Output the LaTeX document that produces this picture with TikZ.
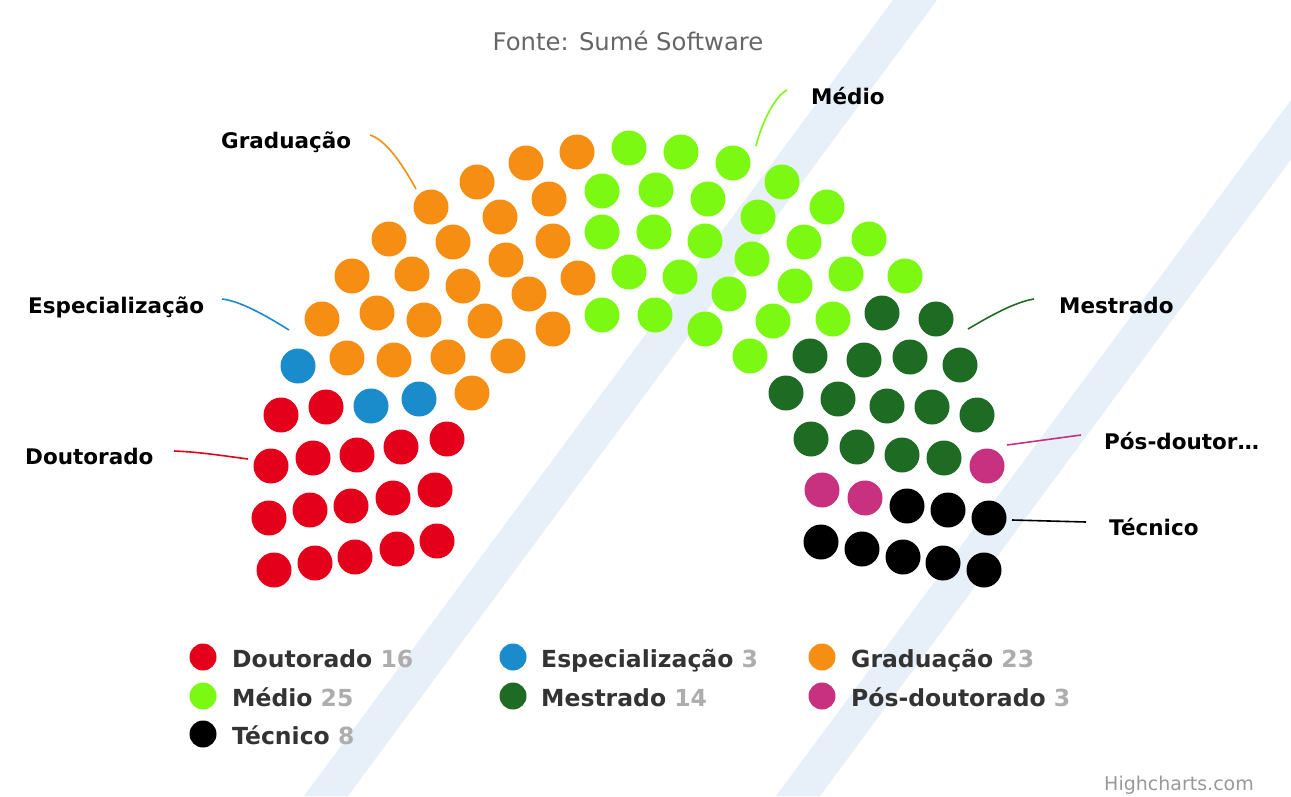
\documentclass[tikz,border=0pt]{standalone}
\usepackage{fontspec}
\setmainfont{DejaVu Sans}
\definecolor{cDoc}{HTML}{E4001B}
\definecolor{cEsp}{HTML}{1A8CCB}
\definecolor{cGra}{HTML}{F78E14}
\definecolor{cMed}{HTML}{7CF912}
\definecolor{cMes}{HTML}{1E6B24}
\definecolor{cPos}{HTML}{C8317F}
\definecolor{cTec}{HTML}{000000}
\definecolor{cBand}{HTML}{E7EFF8}
\definecolor{cLeg}{HTML}{333333}
\definecolor{cNum}{HTML}{ADADAD}
\definecolor{cSub}{HTML}{666666}
\definecolor{cCred}{HTML}{999999}
\begin{document}
\begin{tikzpicture}[x=1pt, y=-1pt,
  seat/.style={circle, inner sep=0pt, minimum size=35pt},
  key/.style={circle, inner sep=0pt, minimum size=27pt},
  lbl/.style={anchor=base west, inner sep=0pt, font=\fontsize{21.5}{26}\selectfont\bfseries},
  leg/.style={anchor=base west, inner sep=0pt, text=cLeg, font=\fontsize{23.5}{28}\selectfont\bfseries},
  conn/.style={line width=1.6pt}]
	\useasboundingbox (0,0) rectangle (1291,796);
	\clip (0,0) rectangle (1291,796);
	% watermark bands
	\fill[cBand] (893,0) -- (937,0) -- (348,796) -- (304,796) -- cycle;
	\fill[cBand] (1365,0) -- (1409,0) -- (820,796) -- (776,796) -- cycle;

	\node[anchor=base, inner sep=0pt, text=cSub, font=\fontsize{24.3}{29}\selectfont] (fonte) at (628,50) {Fonte: Sumé Software};

	% seats
	\foreach \px/\py [count=\i] in {281/415,326/407,271/466,313/458,357/455,401/447,447/439,269/518,310/510,351/506,393/498,435/490,274/570,315/563,355/557,397/549,437/541}
		\node[seat, fill=cDoc] (doc\i) at (\px,\py) {};
	\foreach \px/\py [count=\i] in {298/366,371/406,419/399}
		\node[seat, fill=cEsp] (esp\i) at (\px,\py) {};
	\foreach \px/\py [count=\i] in {577/152,526/163,477/182,431/207,549/199,500/217,389/239,453/242,553/241,506/260,352/276,412/274,463/286,578/278,529/294,322/319,377/313,424/320,485/321,553/329,347/358,394/360,448/357,508/356,472/393}
		\node[seat, fill=cGra] (gra\i) at (\px,\py) {};
	\foreach \px/\py [count=\i] in {629/148,681/152,733/163,782/182,827/207,869/239,905/276,602/191,656/190,708/199,758/217,804/242,846/274,833/319,602/232,654/232,705/241,752/259,795/286,629/272,680/277,729/294,773/321,602/315,655/315,705/329,750/356}
		\node[seat, fill=cMed] (med\i) at (\px,\py) {};
	\foreach \px/\py [count=\i] in {882/313,936/319,810/356,864/360,910/357,960/365,786/393,838/399,887/406,932/407,977/415,811/439,857/447,902/455,944/458}
		\node[seat, fill=cMes] (mes\i) at (\px,\py) {};
	\foreach \px/\py [count=\i] in {987/466,822/490,865/498}
		\node[seat, fill=cPos] (pos\i) at (\px,\py) {};
	\foreach \px/\py [count=\i] in {907/506,948/510,989/518,821/542,862/549,903/557,943/563,984/570}
		\node[seat, fill=cTec] (tec\i) at (\px,\py) {};

	% data labels
	\node[lbl] (lGra) at (221,148) {Graduação};
	\node[lbl] (lEsp) at (28,313) {Especialização};
	\node[lbl] (lDoc) at (25,464) {Doutorado};
	\node[lbl] (lMed) at (811,104) {Médio};
	\node[lbl] (lMes) at (1059,313) {Mestrado};
	\node[lbl] (lPos) at (1104,449) {Pós-doutor…};
	\node[lbl] (lTec) at (1109,535) {Técnico};

	\coordinate (aGra) at (370,135);  \coordinate (bGra) at (416,189);
	\coordinate (aEsp) at (222,299);  \coordinate (bEsp) at (289,330);
	\coordinate (aDoc) at (174,451);  \coordinate (bDoc) at (248,459);
	\coordinate (aMed) at (787,90);   \coordinate (bMed) at (756,146);
	\coordinate (aMes) at (1034,299); \coordinate (bMes) at (968,329);
	\coordinate (aPos) at (1081,435); \coordinate (bPos) at (1007,445);
	\coordinate (aTec) at (1086,522); \coordinate (bTec) at (1012,520);
	\draw[conn, cGra] (aGra) .. controls (385,140) and (400,160) .. (bGra);
	\draw[conn, cEsp] (aEsp) .. controls (240,301) and (265,315) .. (bEsp);
	\draw[conn, cDoc] (aDoc) .. controls (200,452) and (225,456) .. (bDoc);
	\draw[conn, cMed] (aMed) .. controls (775,96) and (762,122) .. (bMed);
	\draw[conn, cMes] (aMes) .. controls (1015,302) and (990,316) .. (bMes);
	\draw[conn, cPos] (aPos) -- (bPos);
	\draw[conn, cTec] (aTec) -- (bTec);

	% legend
	\node[key, fill=cDoc] (kDoc) at (203,657) {};
	\node[leg] (tDoc) at (232,667) {Doutorado \textcolor{cNum}{16}};
	\node[key, fill=cEsp] (kEsp) at (513,657) {};
	\node[leg] (tEsp) at (541,667) {Especialização \textcolor{cNum}{3}};
	\node[key, fill=cGra] (kGra) at (822,657) {};
	\node[leg] (tGra) at (851,667) {Graduação \textcolor{cNum}{23}};
	\node[key, fill=cMed] (kMed) at (203,696) {};
	\node[leg] (tMed) at (232,706) {Médio \textcolor{cNum}{25}};
	\node[key, fill=cMes] (kMes) at (513,696) {};
	\node[leg] (tMes) at (541,706) {Mestrado \textcolor{cNum}{14}};
	\node[key, fill=cPos] (kPos) at (822,696) {};
	\node[leg] (tPos) at (851,706) {Pós-doutorado \textcolor{cNum}{3}};
	\node[key, fill=cTec] (kTec) at (203,734) {};
	\node[leg] (tTec) at (232,744) {Técnico \textcolor{cNum}{8}};

	\node[anchor=base east, inner sep=0pt, text=cCred, font=\fontsize{19}{23}\selectfont] (credit) at (1254,790) {Highcharts.com};
\end{tikzpicture}
\end{document}
